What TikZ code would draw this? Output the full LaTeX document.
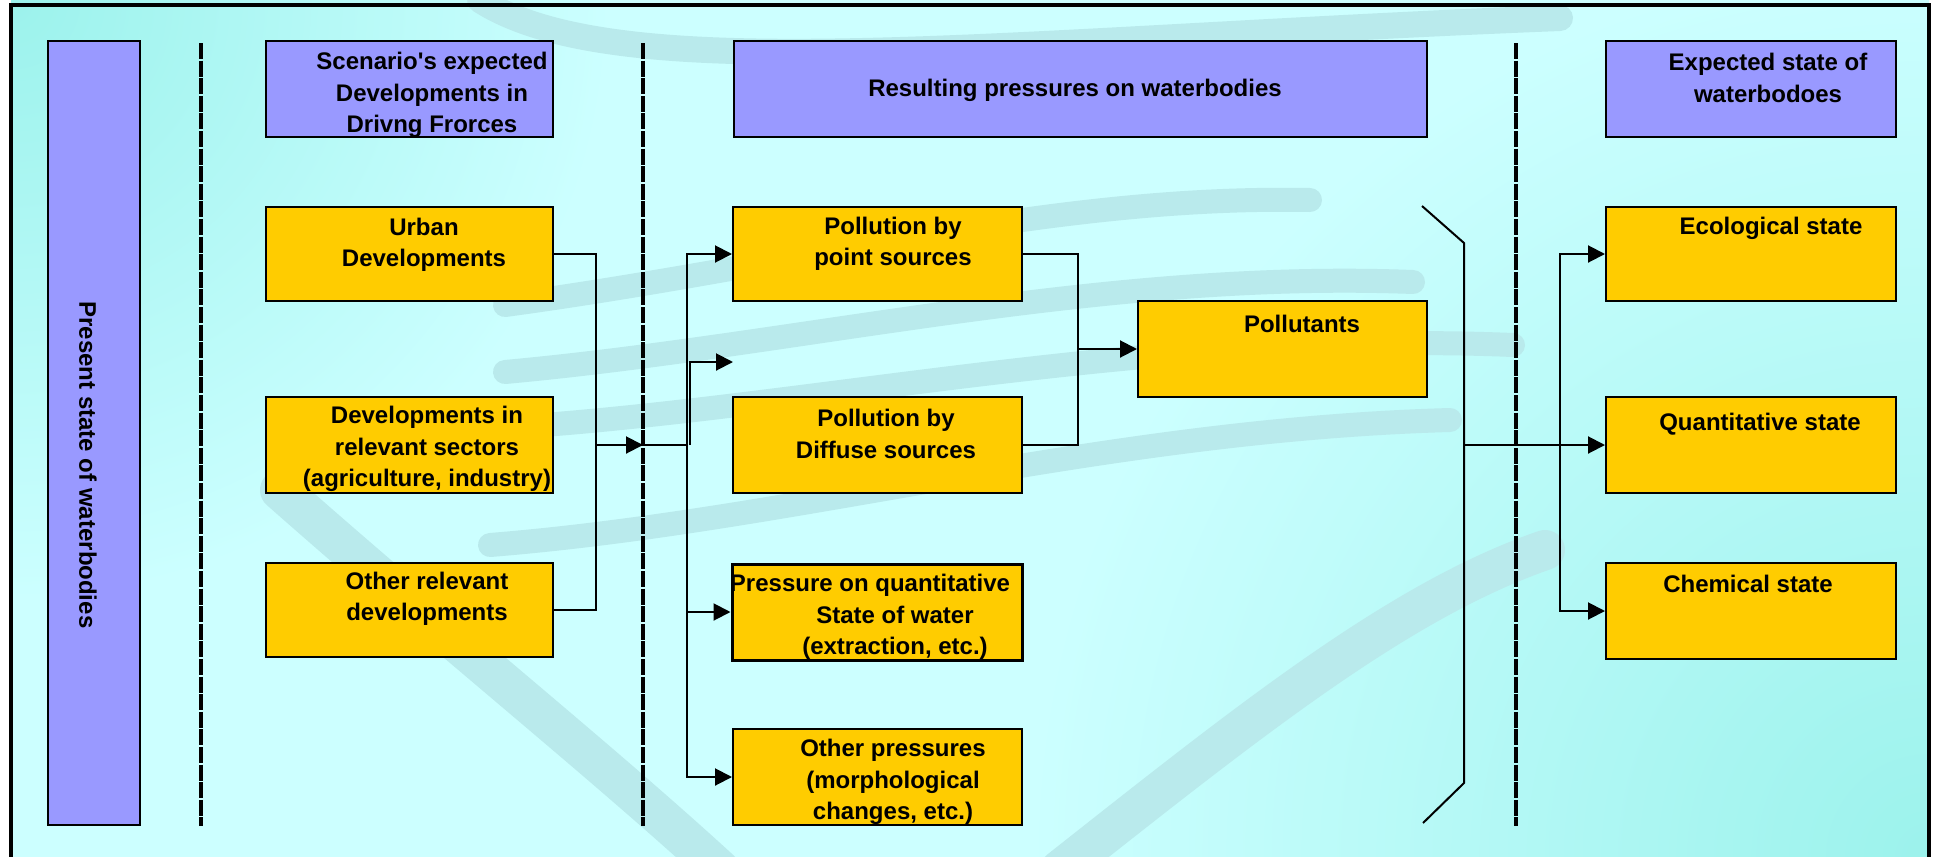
\documentclass[tikz,border=0pt]{standalone}
\usepackage{fontspec}
\setmainfont{Liberation Sans}[Ligatures=TeXOff]
\usetikzlibrary{arrows.meta}
\definecolor{bgc}{HTML}{CCFFFF}
\definecolor{bgdark}{HTML}{9CF2EC}
\definecolor{bandc}{HTML}{B9EAEC}
\definecolor{boxy}{HTML}{FFCC00}
\definecolor{boxp}{HTML}{9999FF}
\begin{document}
\begin{tikzpicture}[x=0.5pt,y=-0.5pt,
  txt/.style={inner sep=0pt, align=center, font=\fontsize{12}{15.75}\selectfont\bfseries},
  ybox/.style={draw=black, fill=boxy, line width=1pt, inner sep=0pt},
  pbox/.style={draw=black, fill=boxp, line width=1pt, inner sep=0pt},
  conn/.style={draw=black, line width=1pt},
  arr/.style={draw=black, line width=1pt, -{Triangle[length=8.5pt,width=8.5pt]}},
  sepline/.style={draw=black, line width=1.6pt, dash pattern=on 8pt off 0.8pt},
  bandst/.style={draw=bandc, line width=12pt, line cap=round}
]
\useasboundingbox (0,0) rectangle (1934,857);
\clip (0,0) rectangle (1934,857);
% background
\fill[white] (0,0) rectangle (1934,857);
\begin{scope}
  \clip (11,0) rectangle (1929,857);
  \fill[bgc] (11,0) rectangle (1929,857);
  \shade[inner color=bgdark, outer color=bgc] (11,0) circle (600);
  \shade[inner color=bgdark, outer color=bgc] (1929,857) circle (900);
  % watermark bands
  \draw[bandst, line width=13pt] (480,0) .. controls (620,90) and (1000,40) .. (1560,18);
  \draw[bandst] (505,305) .. controls (800,265) and (1050,195) .. (1310,200);
  \draw[bandst] (505,372) .. controls (800,345) and (1100,270) .. (1413,282);
  \draw[bandst] (500,428) .. controls (800,410) and (1150,330) .. (1513,345);
  \draw[bandst] (490,545) .. controls (800,520) and (1100,430) .. (1450,420);
  \draw[bandst, line width=20pt] (280,490) .. controls (450,640) and (600,760) .. (720,870);
  \draw[bandst, line width=20pt] (1060,870) .. controls (1250,720) and (1400,600) .. (1545,550);
\end{scope}
% frame
\draw[line width=1.75pt] (11,880) -- (11,5) -- (1929,5) -- (1929,880);
% separators
\draw[sepline] (201,43) -- (201,826);
\draw[sepline] (643,43) -- (643,826);
\draw[sepline] (1516,43) -- (1516,826);
% boxes
\node[pbox, minimum width=46pt, minimum height=392pt] (pres) at (94,433) {};
\node[pbox, minimum width=143.5pt, minimum height=48pt] (scen) at (409.5,89) {};
\node[pbox, minimum width=346.5pt, minimum height=48pt] (resu) at (1080.5,89) {};
\node[pbox, minimum width=145pt, minimum height=48pt] (expe) at (1751,89) {};
\node[ybox, minimum width=143.5pt, minimum height=47pt] (urban) at (409.5,254) {};
\node[ybox, minimum width=143.5pt, minimum height=48pt] (dev) at (409.5,445) {};
\node[ybox, minimum width=143.5pt, minimum height=47pt] (oth) at (409.5,610) {};
\node[ybox, minimum width=144.5pt, minimum height=47pt] (pps) at (877.5,254) {};
\node[ybox, minimum width=144.5pt, minimum height=48pt] (pds) at (877.5,445) {};
\node[ybox, line width=1.5pt, minimum width=145pt, minimum height=48pt] (pqs) at (877,612) {};
\node[ybox, minimum width=144.5pt, minimum height=48pt] (ops) at (877.5,777) {};
\node[ybox, minimum width=144.5pt, minimum height=48pt] (poll) at (1282.5,349) {};
\node[ybox, minimum width=145pt, minimum height=47pt] (eco) at (1751,254) {};
\node[ybox, minimum width=145pt, minimum height=48pt] (quan) at (1751,445) {};
\node[ybox, minimum width=145pt, minimum height=48pt] (chem) at (1751,611) {};
% texts
\node[txt, rotate=-90] (tpres) at (88,465) {Present state of waterbodies};
\node[txt] (tscen) at (432,95) {Scenario's expected\\Developments in\\Drivng Frorces};
\node[txt] (tresu) at (1075,90) {Resulting pressures on waterbodies};
\node[txt] (texpe) at (1768,78) {Expected state of\\waterbodoes};
\node[txt] (turban) at (424,245) {Urban\\Developments};
\node[txt] (tdev) at (427,449) {Developments in\\relevant sectors\\(agriculture, industry)};
\node[txt] (toth) at (427,599) {Other relevant\\developments};
\node[txt] (tpps) at (893,244) {Pollution by\\point sources};
\node[txt] (tpds) at (886,434) {Pollution by\\Diffuse sources};
\node[txt] (tpqs) at (895,617) {Pressure on quantitative\hspace*{25pt}\\State of water\\(extraction, etc.)};
\node[txt] (tops) at (893,782) {Other pressures\\(morphological\\changes, etc.)};
\node[txt] (tpoll) at (1302,324) {Pollutants};
\node[txt] (teco) at (1771,228) {Ecological state};
\node[txt] (tquan) at (1760,424) {Quantitative state};
\node[txt] (tchem) at (1748,584) {Chemical state};
% connector coordinates
\coordinate (jl) at (596,445);
\coordinate (s2) at (643,445);
\coordinate (jm) at (687,445);
\coordinate (jm2) at (690,445);
\coordinate (e1) at (733,362);
\coordinate (jr) at (1078,349);
\coordinate (b1) at (1422,206);
\coordinate (b2) at (1464,243);
\coordinate (b3) at (1464,783);
\coordinate (b4) at (1423,823);
\coordinate (bm) at (1464,445);
\coordinate (jq) at (1560,445);
% connectors
\draw[conn] (urban.east) -| (jl) |- (oth.east);
\draw[arr] (jl) -- (s2);
\draw[conn] (s2) -- (jm);
\draw[arr] (jm) |- (pps.west);
\draw[arr] (jm2) |- (e1);
\draw[arr] (jm) |- (pqs.west);
\draw[arr] (jm) |- (ops.west);
\draw[conn] (pps.east) -| (jr) |- (pds.east);
\draw[arr] (jr) -- (poll.west);
\draw[conn] (b1) -- (b2) -- (b3) -- (b4);
\draw[arr] (bm) -- (quan.west);
\draw[arr] (jq) |- (eco.west);
\draw[arr] (jq) |- (chem.west);
\end{tikzpicture}
\end{document}
